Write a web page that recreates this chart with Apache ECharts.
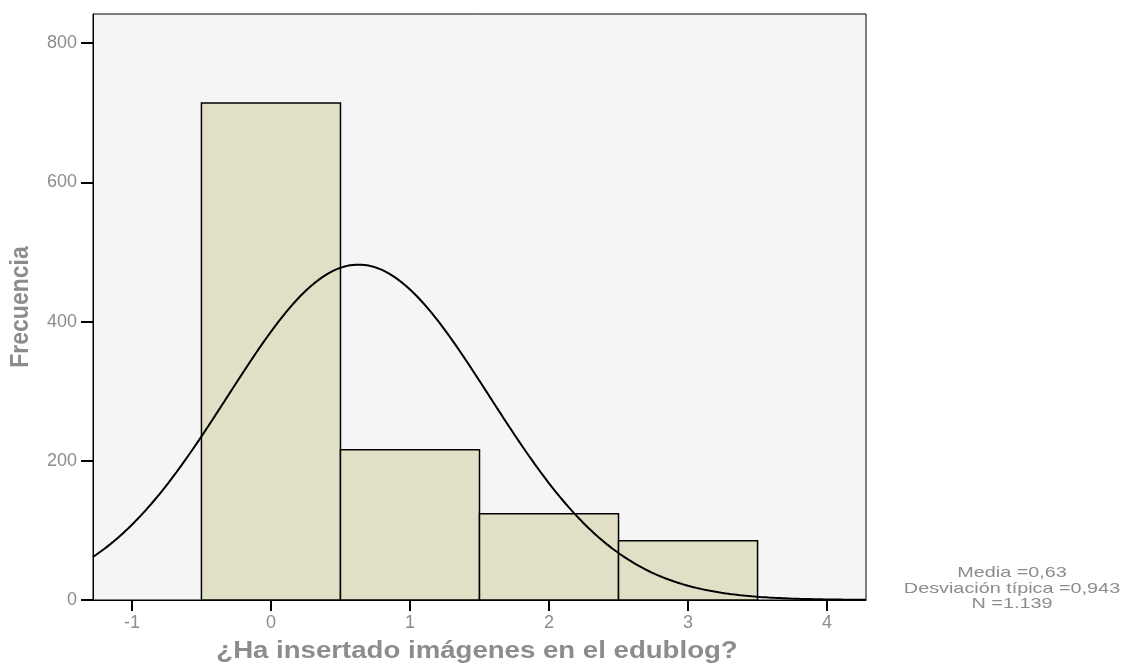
<!DOCTYPE html>
<html>
<head>
<meta charset="utf-8">
<script src="https://cdn.jsdelivr.net/npm/echarts@6/dist/echarts.min.js"></script>
<style>
  html, body { margin: 0; padding: 0; background: #ffffff; }
  #chart { width: 1131px; height: 668px; }
</style>
</head>
<body>
<div id="chart"></div>
<script>
// Histogram bins: lower edge, upper edge, frequency
const binStarts = [-0.5, 0.5, 1.5, 2.5];
const binEnds = [0.5, 1.5, 2.5, 3.5];
const frequencies = [714, 216, 124, 85];

// Summary statistics shown beside the plot
const mean = 0.63;
const stdDev = 0.943;
const total = 1139;
const statLines = ['Media =0,63', 'Desviación típica =0,943', 'N =1.139'];

// Axis titles and ticks
const xTitle = '¿Ha insertado imágenes en el edublog?';
const yTitle = 'Frecuencia';
const xTicks = [-1, 0, 1, 2, 3, 4];
const yTicks = [0, 200, 400, 600, 800];

const xMin = -1.28, xMax = 4.28, yMax = 842;
const binWidth = 1;

// Fitted normal curve scaled to the histogram (N * bin width * density)
const curve = [];
for (let i = 0; i <= 556; i++) {
  const x = xMin + i * 0.01;
  const z = (x - mean) / stdDev;
  const y = total * binWidth * Math.exp(-0.5 * z * z) / (stdDev * Math.sqrt(2 * Math.PI));
  curve.push([x, y]);
}

const bins = binStarts.map((s, i) => [s, binEnds[i], frequencies[i]]);

const grey = '#8c8c8c';
const fontFamily = '"Liberation Sans", Arial, sans-serif';
// Titles are set slightly wide
const stretch = 1.2;

const chart = echarts.init(document.getElementById('chart'), null, { renderer: 'canvas' });

chart.setOption({
  animation: false,
  backgroundColor: '#ffffff',
  grid: {
    left: 93, top: 14, right: 265, bottom: 68,
    show: true, backgroundColor: '#f5f5f5',
    borderColor: '#000000', borderWidth: 1
  },
  xAxis: {
    type: 'value', min: xMin, max: xMax,
    axisLine: { show: true, onZero: false, lineStyle: { color: '#000000', width: 1 } },
    axisTick: { show: true, length: 11, customValues: xTicks, lineStyle: { color: '#000000', width: 2 } },
    axisLabel: { customValues: xTicks, color: grey, fontSize: 18, margin: 14, fontFamily: fontFamily },
    splitLine: { show: false }
  },
  yAxis: {
    type: 'value', min: 0, max: yMax,
    axisLine: { show: true, onZero: false, lineStyle: { color: '#000000', width: 1 } },
    axisTick: { show: true, length: 12, customValues: yTicks, lineStyle: { color: '#000000', width: 2 } },
    axisLabel: { customValues: yTicks, color: grey, fontSize: 18, margin: 16, fontFamily: fontFamily },
    splitLine: { show: false }
  },
  series: [
    {
      type: 'custom',
      data: bins,
      encode: { x: [0, 1], y: 2 },
      renderItem: function (params, api) {
        const p0 = api.coord([api.value(0), 0]);
        const p1 = api.coord([api.value(1), api.value(2)]);
        return {
          type: 'rect',
          shape: { x: p0[0], y: p1[1], width: p1[0] - p0[0], height: p0[1] - p1[1] },
          style: { fill: '#e1e0c7', stroke: '#000000', lineWidth: 1.5 }
        };
      },
      z: 2
    },
    {
      type: 'line',
      data: curve,
      showSymbol: false,
      smooth: false,
      lineStyle: { color: '#000000', width: 2 },
      clip: true,
      z: 3
    }
  ],
  graphic: [
    {
      type: 'text', x: 477, y: 652, scaleX: stretch,
      style: {
        text: xTitle, align: 'center', verticalAlign: 'middle',
        fill: grey, fontSize: 23, fontWeight: 'bold', fontFamily: fontFamily
      }
    },
    {
      type: 'text', x: 21, y: 307, rotation: Math.PI / 2, scaleY: 1.1,
      style: {
        text: yTitle, align: 'center', verticalAlign: 'middle',
        fill: grey, fontSize: 23, fontWeight: 'bold', fontFamily: fontFamily
      }
    }
  ].concat(statLines.map((t, i) => ({
    type: 'text', x: 1012, y: 573 + i * 15.5, scaleX: 1.32,
    style: {
      text: t, align: 'center', verticalAlign: 'middle',
      fill: grey, fontSize: 15, fontFamily: fontFamily
    }
  })))
});
</script>
</body>
</html>
